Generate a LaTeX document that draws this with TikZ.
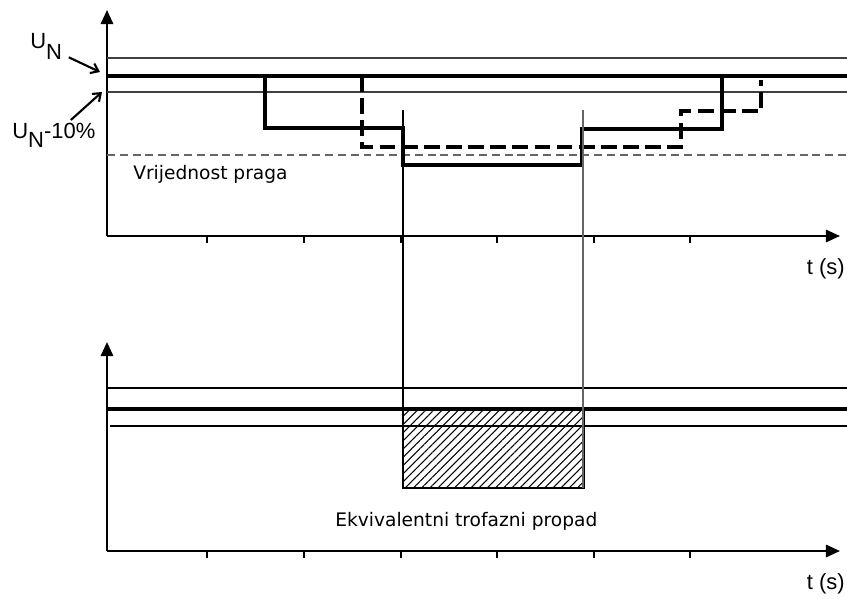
\documentclass[tikz,border=0pt]{standalone}
\usepackage{fontspec}
\setmainfont{DejaVu Sans}
\newfontfamily\arialfont{Liberation Sans}
\usetikzlibrary{arrows.meta,patterns.meta}

\begin{document}
\begin{tikzpicture}[x=0.02cm,y=-0.02cm,
  os/.style={line width=1.3pt,-{Triangle[length=8pt,width=7pt]}},
  tanka/.style={line width=1pt},
  debela/.style={line width=2.1pt},
  crtkana/.style={line width=2.1pt,dash pattern=on 9pt off 3.6pt},
  prag/.style={line width=0.9pt,gray!80!black,dash pattern=on 4.5pt off 2.8pt},
  oznaka/.style={inner sep=0pt,font=\arialfont\fontsize{12.5}{14}\selectfont},
  opis/.style={inner sep=0pt,font=\fontsize{10.6}{13}\selectfont},
  strelica/.style={line width=1.2pt,-{Straight Barb[length=4pt,width=6pt]}}]
  \useasboundingbox (0,0) rectangle (847,598);

  %gornji dijagram: osi
  \draw[os] (107,236) -- (107,10);
  \draw[os] (107,236) -- (840,236);
  \foreach \x in {207,304,401,497,594,690}
    \draw[line width=1.3pt] (\x,236) -- (\x,243);
  %naponske razine
  \draw[tanka,black!75] (107,58) -- (847,58);
  \draw[debela] (107,76) -- (847,76);
  \draw[tanka,black!75] (107,92) -- (847,92);
  \draw[prag] (107,155) -- (847,155);
  %propadi napona po fazama
  \draw[debela] (265,76) -- (265,128) -- (403,128) -- (403,165) -- (582,165) -- (582,129) -- (722,129) -- (722,76);
  \draw[crtkana] (362,76) -- (362,147) -- (681,147) -- (681,111) -- (761,111) -- (761,80);

  %oznake
  \node[oznaka,anchor=base west] (un) at (30,49) {U\raisebox{-0.48em}{N}};
  \node[oznaka,anchor=base west] (un10) at (12,138) {U\raisebox{-0.45em}{N}-10\%};
  \coordinate (un-cilj) at (100,72);
  \coordinate (un10-cilj) at (102,92);
  \draw[strelica,shorten <=4pt] (un) -- (un-cilj);
  \draw[strelica,shorten <=2pt] (un10) -- (un10-cilj);
  \node[opis,anchor=base west] (prag-txt) at (133,179) {Vrijednost praga};
  \node[oznaka,anchor=base east] (t1) at (845,274) {t (s)};

  %donji dijagram
  \fill[pattern={Lines[angle=45,distance=3.3pt,line width=0.6pt]}] (403,409) rectangle (584,488);
  \draw[os] (107,551) -- (107,342);
  \draw[os] (107,551) -- (840,551);
  \foreach \x in {207,304,401,497,594,690}
    \draw[line width=1.3pt] (\x,551) -- (\x,558);
  \draw[tanka] (107,388) -- (847,388);
  \draw[debela] (107,409) -- (847,409);
  \draw[tanka] (110,426) -- (847,426);
  \draw[tanka] (403,409) rectangle (584,488);
  %spojne linije
  \draw[tanka] (403,110) -- (403,488);
  \draw[tanka,black!60] (583,110) -- (583,488);
  \node[opis,anchor=base west] (propad-txt) at (335,526) {Ekvivalentni trofazni propad};
  \node[oznaka,anchor=base east] (t2) at (845,589) {t (s)};
\end{tikzpicture}
\end{document}
